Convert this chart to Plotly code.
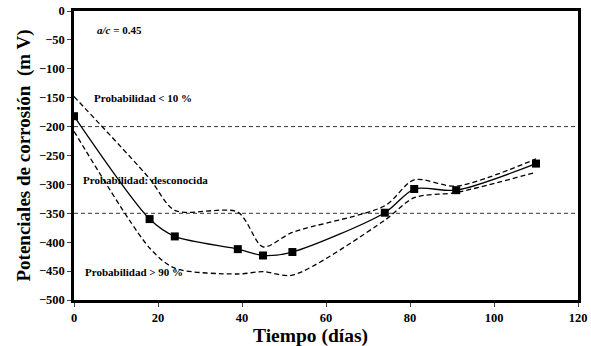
import plotly.graph_objects as go

dias = [0, 18, 24, 39, 45, 52, 74, 81, 91, 110]
potencial = [-182, -360, -390, -412, -423, -417, -349, -308, -310, -264]
limite_sup = [-148, -290, -345, -348, -408, -383, -337, -292, -303, -256]
limite_inf = [-208, -410, -445, -455, -451, -457, -362, -323, -314, -279]
umbrales = [-200, -350]
x_ticks = [0, 20, 40, 60, 80, 100, 120]
y_ticks = list(range(-500, 1, 50))

FONT = "Liberation Serif"

fig = go.Figure()
for u in umbrales:
    fig.add_trace(go.Scatter(x=[0, 120], y=[u, u], mode="lines",
                             line=dict(color="black", width=0.8, dash="4px,3px"),
                             showlegend=False, hoverinfo="skip"))
for ys in (limite_sup, limite_inf):
    fig.add_trace(go.Scatter(x=dias, y=ys, mode="lines",
                             line=dict(color="black", width=1.3, dash="5px,3px", shape="spline", smoothing=0.8),
                             showlegend=False))
fig.add_trace(go.Scatter(x=dias, y=potencial, mode="lines+markers",
                         line=dict(color="black", width=1.3, shape="spline", smoothing=0.8),
                         marker=dict(symbol="square", size=8, color="black"),
                         showlegend=False))

annots = [
    (5, -33, "<b><i>a/c</i> = 0.45</b>"),
    (4.3, -150, "<b>Probabilidad < 10 %</b>"),
    (1.6, -292, "<b>Probabilidad: desconocida</b>"),
    (2.2, -451, "<b>Probabilidad > 90 %</b>"),
]
for x, y, t in annots:
    fig.add_annotation(x=x, y=y, text=t, showarrow=False, xanchor="left", yanchor="middle",
                       font=dict(family=FONT, size=11, color="black"))

# x-axis title sits a little left of the plot centre in the reference
fig.add_annotation(x=0.470, y=-0.125, xref="paper", yref="paper", text="<b>Tiempo (días)</b>",
                   showarrow=False, xanchor="center", yanchor="middle",
                   font=dict(family=FONT, size=19.5, color="black"))

fig.update_layout(
    width=591, height=346,
    margin=dict(l=74, r=13, t=11, b=46),
    paper_bgcolor="white", plot_bgcolor="white",
    font=dict(family=FONT, color="black"),
    xaxis=dict(range=[0, 120], tickvals=x_ticks, ticks="outside", ticklen=4, tickwidth=1,
               showgrid=False, zeroline=False, showline=True, linewidth=2.5, linecolor="black",
               mirror=True, automargin=False, tickfont=dict(family=FONT, size=12.5, weight="bold")),
    yaxis=dict(range=[-500, 0], tickvals=y_ticks, ticks="outside", ticklen=4, tickwidth=1,
               showgrid=False, zeroline=False, showline=True, linewidth=2.5, linecolor="black",
               mirror=True, automargin=False, tickfont=dict(family=FONT, size=12.5, weight="bold"),
               title=dict(text="<b>Potenciales de corrosión  (m V)</b>", font=dict(family=FONT, size=19), standoff=4)),
)
fig.write_html("out.html", config={"displayModeBar": False},
               post_script="document.body.style.margin='0';")
